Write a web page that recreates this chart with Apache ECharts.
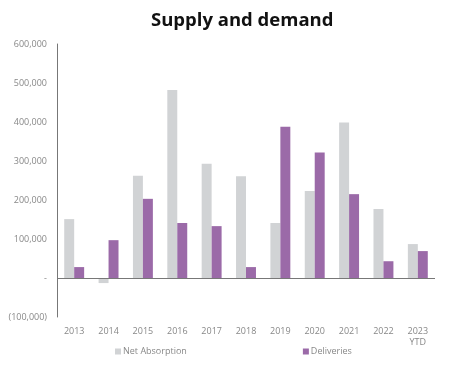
<!DOCTYPE html>
<html><head><meta charset="utf-8">
<script src="https://cdn.jsdelivr.net/npm/echarts@6/dist/echarts.min.js"></script>
<style>html,body{margin:0;padding:0;background:#fff}#c{width:452px;height:379px}</style>
</head><body><div id="c"></div>
<script>
const categories = ['2013','2014','2015','2016','2017','2018','2019','2020','2021','2022','2023\nYTD'];
const netAbsorption = [151000,-13000,262000,482000,293000,261000,141000,223000,399000,177000,87000];
const deliveries = [28000,97000,203000,141000,133000,28000,388000,322000,215000,43000,69000];
const yTicks = {min:-100000, max:600000, interval:100000};

const chart = echarts.init(document.getElementById('c'));
function fmt(v){
  if (v === 0) return '-';
  const s = Math.abs(v).toLocaleString('en-US');
  return v < 0 ? '(' + s + ')' : s;
}
chart.setOption({
  animation:false,
  textStyle:{fontFamily:'Open Sans'},
  title:{text:'Supply and demand', left:146, top:6,
    textStyle:{fontFamily:'Open Sans', fontWeight:'bold', fontSize:18.5, color:'#111'}},
  legend:{bottom:18, left:110, itemWidth:6, itemHeight:6, itemGap:116, icon:'rect',
    textStyle:{fontSize:9, color:'#888', padding:[0,0,0,-3]},
    data:['Net Absorption','Deliveries']},
  grid:{left:57, right:17, top:44, bottom:62},
  xAxis:{type:'category', data:categories,
    axisLine:{show:false, onZero:false}, axisTick:{show:false},
    axisLabel:{color:'#888', fontSize:9, margin:9, lineHeight:11}},
  yAxis:{type:'value', min:yTicks.min, max:yTicks.max, interval:yTicks.interval,
    axisLine:{show:true, lineStyle:{color:'#777'}}, axisTick:{show:false},
    splitLine:{show:false},
    axisLabel:{color:'#888', fontSize:9, margin:10, formatter:fmt}},
  series:[
    {name:'Net Absorption', type:'bar', data:netAbsorption, barGap:'0%', barCategoryGap:'42%',
      itemStyle:{color:'#d1d3d5'},
      markLine:{silent:true, symbol:'none', label:{show:false},
        lineStyle:{color:'#777', type:'solid', width:1}, data:[{yAxis:0}]}},
    {name:'Deliveries', type:'bar', data:deliveries, barGap:'0%', barCategoryGap:'42%',
      itemStyle:{color:'#9b6aa8'}}
  ]
});
</script></body></html>
